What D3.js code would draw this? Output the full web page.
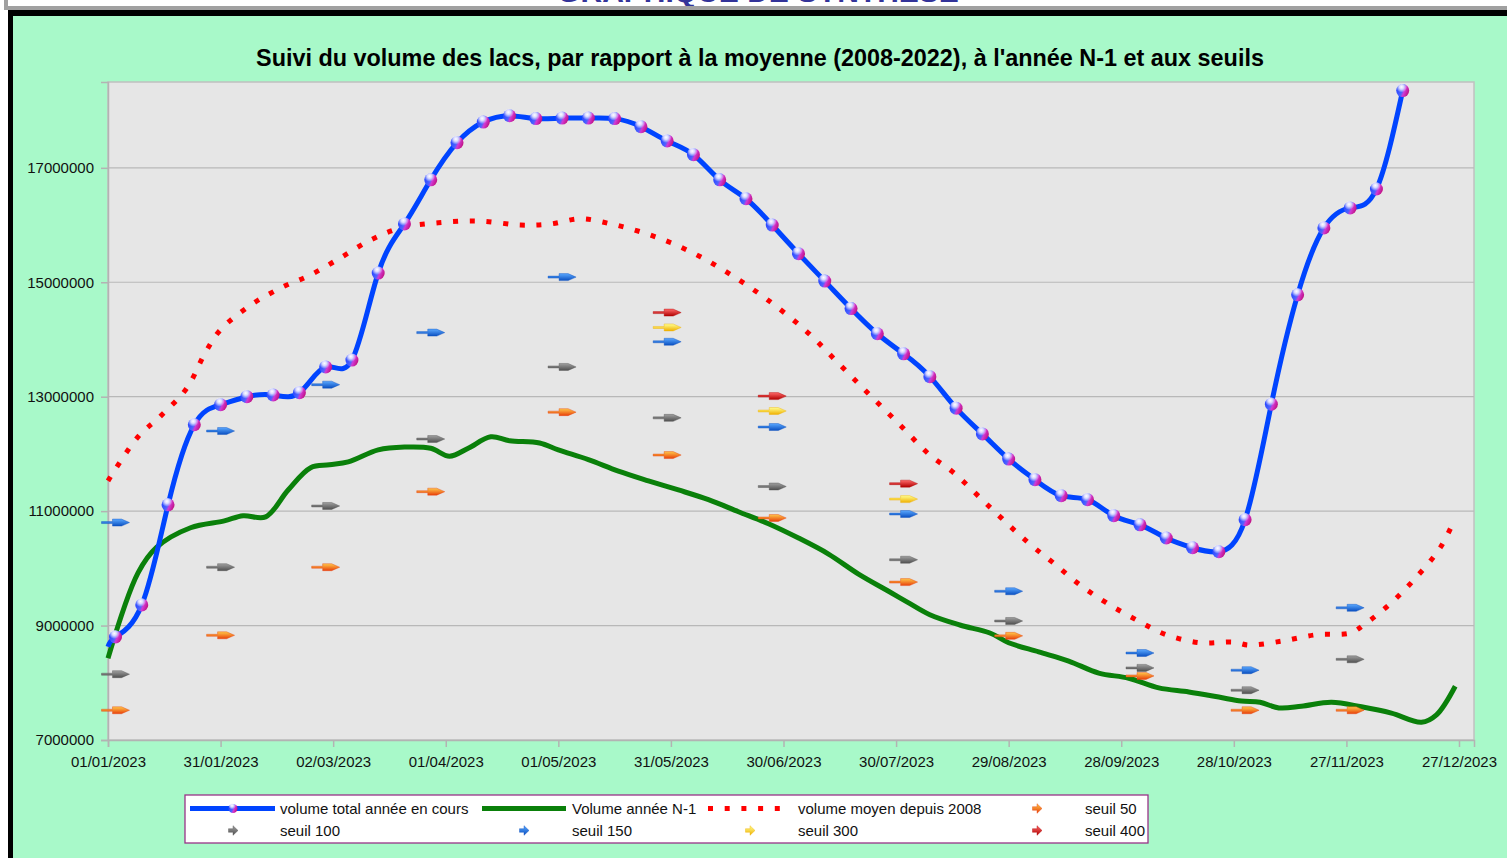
<!DOCTYPE html>
<html><head><meta charset="utf-8">
<script src="https://cdn.jsdelivr.net/npm/d3@7"></script>
<style>
body{margin:0;background:#fff;}
svg text{font-family:"Liberation Sans",Arial,sans-serif;}
</style>
</head><body>
<svg id="chart" width="1507" height="858"></svg>
<script>
// ---------------- DATA ----------------
const chartTitle = "Suivi du volume des lacs, par rapport à la moyenne (2008-2022), à l'année N-1 et aux seuils";
const headerTitle = "GRAPHIQUE DE SYNTHESE";
const xTickLabels = ["01/01/2023","31/01/2023","02/03/2023","01/04/2023","01/05/2023","31/05/2023","30/06/2023","30/07/2023","29/08/2023","28/09/2023","28/10/2023","27/11/2023","27/12/2023"];
const yTickValues = [7000000, 9000000, 11000000, 13000000, 15000000, 17000000];

// volume total année en cours (weekly)
const currentDates = ["2023-01-01","2023-01-03","2023-01-10","2023-01-17","2023-01-24","2023-01-31","2023-02-07","2023-02-14","2023-02-21","2023-02-28",
  "2023-03-07","2023-03-14","2023-03-21","2023-03-28","2023-04-04","2023-04-11","2023-04-18","2023-04-25","2023-05-02","2023-05-09",
  "2023-05-16","2023-05-23","2023-05-30","2023-06-06","2023-06-13","2023-06-20","2023-06-27","2023-07-04","2023-07-11","2023-07-18",
  "2023-07-25","2023-08-01","2023-08-08","2023-08-15","2023-08-22","2023-08-29","2023-09-05","2023-09-12","2023-09-19","2023-09-26",
  "2023-10-03","2023-10-10","2023-10-17","2023-10-24","2023-10-31","2023-11-07","2023-11-14","2023-11-21","2023-11-28","2023-12-05","2023-12-12"];
const currentValues = [8630000, 8800000, 9360000, 11110000, 12510000, 12860000, 13000000, 13030000, 13070000, 13520000,
  13640000, 15160000, 16020000, 16790000, 17440000, 17800000, 17910000, 17860000, 17870000, 17870000,
  17860000, 17720000, 17470000, 17230000, 16790000, 16460000, 16000000, 15500000, 15020000, 14540000,
  14100000, 13750000, 13350000, 12800000, 12350000, 11910000, 11550000, 11270000, 11200000, 10920000,
  10760000, 10530000, 10360000, 10290000, 10850000, 12870000, 14780000, 15950000, 16300000, 16630000, 18350000];
const currentMarkerFrom = 1; // first row (01/01) has no marker

// Volume année N-1
const previousDates = ["2023-01-01","2023-01-09","2023-01-14","2023-01-23","2023-02-01","2023-02-06","2023-02-12","2023-02-18","2023-02-24","2023-03-01",
  "2023-03-06","2023-03-14","2023-03-21","2023-03-28","2023-04-02","2023-04-07","2023-04-13","2023-04-18","2023-04-26","2023-05-01",
  "2023-05-09","2023-05-17","2023-05-25","2023-06-02","2023-06-10","2023-06-18","2023-06-26","2023-07-04","2023-07-12","2023-07-20",
  "2023-07-28","2023-08-02","2023-08-08","2023-08-16","2023-08-24","2023-08-29","2023-09-06","2023-09-14","2023-09-22","2023-09-30",
  "2023-10-08","2023-10-16","2023-10-24","2023-10-30","2023-11-04","2023-11-09","2023-11-15","2023-11-23","2023-12-01","2023-12-09",
  "2023-12-17","2023-12-21","2023-12-26"];
const previousValues = [8430000, 9920000, 10370000, 10710000, 10830000, 10920000, 10900000, 11370000, 11760000, 11810000,
  11860000, 12070000, 12120000, 12100000, 11960000, 12100000, 12300000, 12230000, 12190000, 12070000,
  11900000, 11700000, 11530000, 11370000, 11200000, 10990000, 10780000, 10530000, 10250000, 9900000,
  9600000, 9410000, 9190000, 9010000, 8870000, 8700000, 8540000, 8380000, 8170000, 8080000,
  7910000, 7840000, 7750000, 7680000, 7660000, 7560000, 7590000, 7660000, 7580000, 7470000,
  7310000, 7440000, 7940000];

// volume moyen depuis 2008
const meanDates = ["2023-01-01","2023-01-09","2023-01-15","2023-01-22","2023-01-27","2023-01-31","2023-02-08","2023-02-16","2023-02-24","2023-03-04",
  "2023-03-12","2023-03-20","2023-03-30","2023-04-10","2023-04-21","2023-04-29","2023-05-07","2023-05-15","2023-05-23","2023-05-31",
  "2023-06-08","2023-06-16","2023-06-25","2023-07-06","2023-07-15","2023-07-23","2023-07-31","2023-08-08","2023-08-14","2023-08-24",
  "2023-09-03","2023-09-10","2023-09-17","2023-09-24","2023-10-02","2023-10-10","2023-10-19","2023-10-28","2023-11-01","2023-11-10",
  "2023-11-19","2023-11-28","2023-12-02","2023-12-09","2023-12-15","2023-12-22","2023-12-26"];
const meanValues = [11530000, 12300000, 12660000, 13150000, 13780000, 14170000, 14600000, 14900000, 15130000, 15430000,
  15740000, 15950000, 16040000, 16070000, 16000000, 16020000, 16110000, 16020000, 15880000, 15690000,
  15440000, 15130000, 14730000, 14150000, 13560000, 13030000, 12510000, 11980000, 11690000, 11070000,
  10460000, 10090000, 9710000, 9400000, 9100000, 8840000, 8700000, 8710000, 8660000, 8730000,
  8840000, 8870000, 9030000, 9400000, 9800000, 10360000, 10880000];

// seuils
const seuilDates = ["2023-01-03","2023-01-31","2023-02-28","2023-03-28","2023-05-02","2023-05-30","2023-06-27","2023-08-01","2023-08-29","2023-10-03","2023-10-31","2023-11-28"];
const seuil50  = [7520000, 8830000, 10020000, 11340000, 12730000, 11980000, 10880000, 9760000, 8820000, 8120000, 7520000, 7520000];
const seuil100 = [8150000, 10020000, 11090000, 12260000, 13520000, 12630000, 11430000, 10150000, 9080000, 8260000, 7870000, 8410000];
const seuil150 = [10800000, 12400000, 13210000, 14120000, 15090000, 13960000, 12470000, 10950000, 9600000, 8520000, 8220000, 9310000];
const seuil300 = [null, null, null, null, null, 14210000, 12750000, 11210000, null, null, null, null];
const seuil400 = [null, null, null, null, null, 14470000, 13010000, 11480000, null, null, null, null];

const legendLabels = ["volume total année en cours","Volume année N-1","volume moyen depuis 2008","seuil 50","seuil 100","seuil 150","seuil 300","seuil 400"];

// ---------------- DRAWING ----------------
const svg = d3.select("#chart");
const parseISO = d3.timeParse("%Y-%m-%d");
const parseFR = d3.timeParse("%d/%m/%Y");
const fmtFR = d3.timeFormat("%d/%m/%Y");

const W = 1507, H = 858;
const plot = {left: 108, right: 1474, top: 82, bottom: 740};

const defs = svg.append("defs");
// sphere gradient
const sg = defs.append("linearGradient").attr("id","sphereBase").attr("x1",0).attr("y1",0.2).attr("x2",1).attr("y2",0.6);
[["0%","#2040ff"],["50%","#4d63ff"],["66%","#d03ad6"],["100%","#c0107e"]].forEach(s=>sg.append("stop").attr("offset",s[0]).attr("stop-color",s[1]));
const sh = defs.append("radialGradient").attr("id","sphereHi").attr("cx","0.45").attr("cy","0.3").attr("r","0.5");
sh.append("stop").attr("offset","0%").attr("stop-color","#fff").attr("stop-opacity",1);
sh.append("stop").attr("offset","40%").attr("stop-color","#f4f0ff").attr("stop-opacity",0.85);
sh.append("stop").attr("offset","100%").attr("stop-color","#fff").attr("stop-opacity",0);

const arrowStyles = {
  s50:  ["#ffc84a","#e8400a"],
  s100: ["#a0a0a0","#505050"],
  s150: ["#5aa8ff","#0a4fc0"],
  s300: ["#ffff90","#f0b000"],
  s400: ["#ff6a6a","#b00000"]
};
Object.entries(arrowStyles).forEach(([k,c])=>{
  const g = defs.append("linearGradient").attr("id","grad_"+k).attr("x1",0).attr("y1",0).attr("x2",0).attr("y2",1);
  g.append("stop").attr("offset","0%").attr("stop-color",c[0]);
  g.append("stop").attr("offset","100%").attr("stop-color",c[1]);
});
defs.append("clipPath").attr("id","topclip").append("rect").attr("x",0).attr("y",0).attr("width",W).attr("height",6);

// page frame
svg.append("rect").attr("x",0).attr("y",0).attr("width",W).attr("height",H).attr("fill","#fff");
svg.append("text").attr("x",758).attr("y",2).attr("text-anchor","middle").attr("clip-path","url(#topclip)")
  .attr("font-size",30).attr("font-weight","bold").attr("fill","#333399").text(headerTitle);
svg.append("rect").attr("x",4).attr("y",6).attr("width",W-4).attr("height",4).attr("fill","#a0a0a0");
svg.append("rect").attr("x",4).attr("y",0).attr("width",4).attr("height",10).attr("fill","#a0a0a0");
svg.append("rect").attr("x",8).attr("y",10).attr("width",W-8).attr("height",H-10).attr("fill","#000");
svg.append("rect").attr("x",13).attr("y",16).attr("width",W-13).attr("height",H-16).attr("fill","#a8f9c9");

// title
svg.append("text").attr("x",760).attr("y",66).attr("text-anchor","middle")
  .attr("font-size",23.4).attr("font-weight","bold").attr("fill","#000").text(chartTitle);

// scales
const x = d3.scaleTime().domain([new Date(2023,0,1), new Date(2023,11,31)]).range([plot.left, plot.right]);
const y = d3.scaleLinear().domain([7000000, 18500000]).range([plot.bottom, plot.top]);

// plot background
svg.append("rect").attr("x",plot.left).attr("y",plot.top).attr("width",plot.right-plot.left).attr("height",plot.bottom-plot.top)
  .attr("fill","#e6e6e6").attr("stroke","#c0c0c0").attr("stroke-width",1.5);

// gridlines
svg.append("g").selectAll("line").data(yTickValues.slice(1)).join("line")
  .attr("x1",plot.left).attr("x2",plot.right).attr("y1",d=>y(d)).attr("y2",d=>y(d))
  .attr("stroke","#b8b8b8").attr("stroke-width",1.2);

// axes
const xAxis = d3.axisBottom(x).tickValues(xTickLabels.map(parseFR)).tickFormat(fmtFR).tickSize(7).tickPadding(9);
const gx = svg.append("g").attr("transform",`translate(0,${plot.bottom})`).call(xAxis);
const yAxis = d3.axisLeft(y).tickValues(yTickValues).tickFormat(d3.format("d")).tickSize(7).tickPadding(7);
const gy = svg.append("g").attr("transform",`translate(${plot.left},0)`).call(yAxis);
[gx,gy].forEach(g=>{
  g.select(".domain").attr("stroke","#b3b3b3").attr("stroke-width",1.5);
  g.selectAll(".tick line").attr("stroke","#b3b3b3").attr("stroke-width",1.5);
  g.selectAll(".tick text").attr("font-size",15).attr("fill","#111").attr("font-family","Liberation Sans, Arial, sans-serif");
});

// series
const prevData = previousDates.map((d,i)=>({date:parseISO(d), v:previousValues[i]}));
const meanData = meanDates.map((d,i)=>({date:parseISO(d), v:meanValues[i]}));
const curData = currentDates.map((d,i)=>({date:parseISO(d), v:currentValues[i]}));

const smooth = d3.line().x(d=>x(d.date)).y(d=>y(d.v)).curve(d3.curveCatmullRom.alpha(0.5));
const spline = d3.line().x(d=>x(d.date)).y(d=>y(d.v)).curve(d3.curveNatural);

svg.append("path").datum(prevData).attr("d",smooth).attr("fill","none").attr("stroke","#0a800a").attr("stroke-width",5).attr("stroke-linejoin","round");
svg.append("path").datum(meanData).attr("d",smooth).attr("fill","none").attr("stroke","#ff0000").attr("stroke-width",5)
  .attr("stroke-dasharray","5 11.7");
svg.append("path").datum(curData).attr("d",spline).attr("fill","none").attr("stroke","#0044ff").attr("stroke-width",5).attr("stroke-linejoin","round");

function sphere(g, cx, cy, r){
  g.append("circle").attr("cx",cx).attr("cy",cy).attr("r",r).attr("fill","url(#sphereBase)");
  g.append("circle").attr("cx",cx-0.6).attr("cy",cy-1.4).attr("r",r*0.85).attr("fill","url(#sphereHi)");
}
const mk = svg.append("g");
curData.slice(currentMarkerFrom).forEach(d=>sphere(mk, x(d.date), y(d.v), 6.5));

// arrows
const arrowPath = "M-14,-1 L-3,-1 L-3,-3.5 L6,-3.5 L14,0 L6,3.5 L-3,3.5 L-3,1 L-14,1 Z";
const smallArrow = "M-4.5,-1.8 L0,-1.8 L0,-4.8 L5,0 L0,4.8 L0,1.8 L-4.5,1.8 Z";
const seuilSeries = [["s50",seuil50],["s100",seuil100],["s150",seuil150],["s300",seuil300],["s400",seuil400]];
const ag = svg.append("g");
seuilSeries.forEach(([k,vals])=>{
  const pts = seuilDates.map((d,i)=>({date:parseISO(d), v:vals[i]})).filter(p=>p.v!=null);
  ag.selectAll(null).data(pts).join("path")
    .attr("transform",p=>`translate(${x(p.date)},${y(p.v)})`)
    .attr("d",arrowPath).attr("fill",`url(#grad_${k})`).attr("stroke",arrowStyles[k][1]).attr("stroke-width",0.4);
});

// legend
const lg = svg.append("g");
lg.append("rect").attr("x",185).attr("y",795).attr("width",963).attr("height",48).attr("fill","#fff").attr("stroke","#993388").attr("stroke-width",1.3);
const r1 = 808.5, r2 = 830.5;
lg.append("line").attr("x1",190).attr("x2",275).attr("y1",r1).attr("y2",r1).attr("stroke","#0044ff").attr("stroke-width",5);
sphere(lg, 233, r1, 4.5);
lg.append("line").attr("x1",482).attr("x2",566).attr("y1",r1).attr("y2",r1).attr("stroke","#0a800a").attr("stroke-width",5);
lg.append("line").attr("x1",708).attr("x2",790).attr("y1",r1).attr("y2",r1).attr("stroke","#ff0000").attr("stroke-width",5).attr("stroke-dasharray","5 11.7");
const legendItems = [
  {label:legendLabels[0], tx:280, ty:r1},
  {label:legendLabels[1], tx:572, ty:r1},
  {label:legendLabels[2], tx:798, ty:r1},
  {label:legendLabels[3], tx:1085, ty:r1, icon:"s50", ix:1037},
  {label:legendLabels[4], tx:280, ty:r2, icon:"s100", ix:233},
  {label:legendLabels[5], tx:572, ty:r2, icon:"s150", ix:524},
  {label:legendLabels[6], tx:798, ty:r2, icon:"s300", ix:750},
  {label:legendLabels[7], tx:1085, ty:r2, icon:"s400", ix:1037}
];
legendItems.forEach(it=>{
  lg.append("text").attr("x",it.tx).attr("y",it.ty).attr("dy","0.35em").attr("font-size",15).attr("fill","#111").text(it.label);
  if(it.icon){
    lg.append("path").attr("transform",`translate(${it.ix},${it.ty})`).attr("d",smallArrow)
      .attr("fill",`url(#grad_${it.icon})`).attr("stroke",arrowStyles[it.icon][1]).attr("stroke-width",0.4);
  }
});
</script>
</body></html>
